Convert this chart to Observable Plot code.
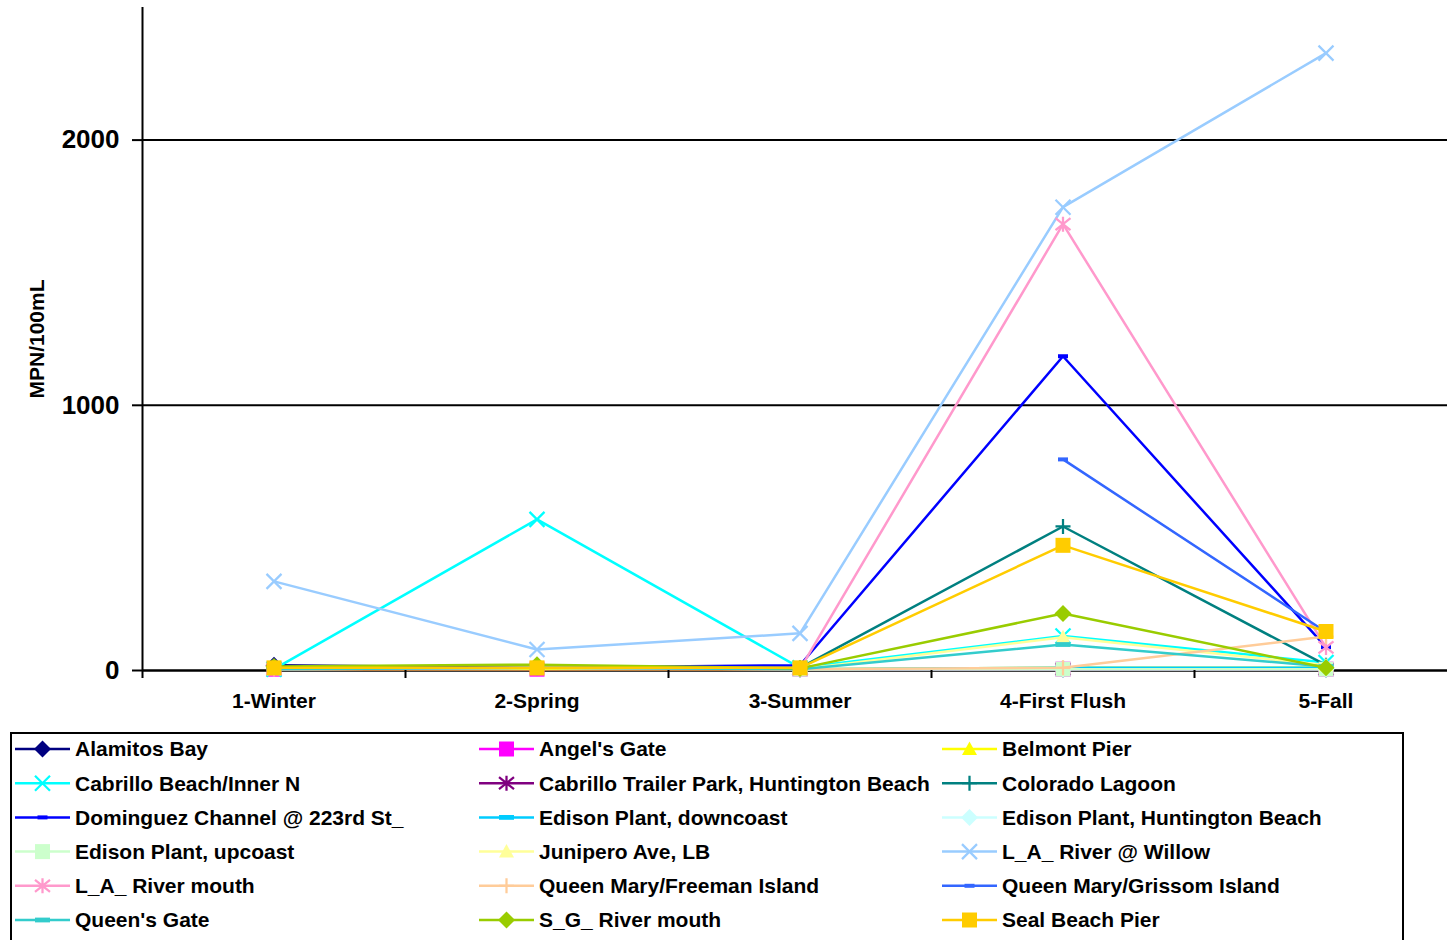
<!DOCTYPE html>
<html>
<head>
<meta charset="utf-8">
<script src="https://cdn.jsdelivr.net/npm/d3@7"></script>
<script src="https://cdn.jsdelivr.net/npm/@observablehq/plot@0.6"></script>
<style>
  html, body { margin: 0; padding: 0; background: #fff; overflow: hidden; }
  body { width: 1447px; height: 940px; position: relative; font-family: "Liberation Sans", Arial, sans-serif; }
  #chart { position: absolute; left: 0; top: 0; }
  #legend { position: absolute; left: 10px; top: 732px; }
</style>
</head>
<body>
<div id="chart"></div>
<div id="legend"></div>
<script>
// Sampling seasons (x axis categories)
const seasons = ["1-Winter", "2-Spring", "3-Summer", "4-First Flush", "5-Fall"];

// Y axis ticks (MPN/100mL)
const yTicks = [0, 1000, 2000];

// Sites, in legend / drawing order
const sites = [
  "Alamitos Bay", "Angel's Gate", "Belmont Pier",
  "Cabrillo Beach/Inner N", "Cabrillo Trailer Park, Huntington Beach", "Colorado Lagoon",
  "Dominguez Channel @ 223rd St_", "Edison Plant, downcoast", "Edison Plant, Huntington Beach",
  "Edison Plant, upcoast", "Junipero Ave, LB", "L_A_ River @ Willow",
  "L_A_ River mouth", "Queen Mary/Freeman Island", "Queen Mary/Grissom Island",
  "Queen's Gate", "S_G_ River mouth", "Seal Beach Pier"
];

// Seasonal values per site (null = not sampled)
const alamitosBay       = [20, 10, 5, 5, 5];
const angelsGate        = [5, 5, 5, 5, 5];
const belmontPier       = [5, 5, 5, 10, 10];
const cabrilloBeach     = [5, 570, 10, 130, 30];
const cabrilloTrailer   = [null, null, 5, 5, 5];
const coloradoLagoon    = [10, 10, 10, 543, 20];
const dominguezChannel  = [10, 10, 20, 1185, 88];
const edisonDowncoast   = [null, null, 5, 10, 10];
const edisonHuntington  = [null, null, 5, 5, 5];
const edisonUpcoast     = [null, null, 5, 5, 5];
const juniperoAve       = [5, 10, 5, 125, 20];
const laRiverWillow     = [336, 79, 140, 1747, 2328];
const laRiverMouth      = [5, 10, 5, 1683, 87];
const freemanIsland     = [null, null, 5, 10, 128];
const grissomIsland     = [null, null, null, 796, 145];
const queensGate        = [5, 10, 5, 98, 15];
const sgRiverMouth      = [15, 22, 8, 215, 10];
const sealBeachPier     = [10, 10, 10, 472, 147];

const siteValues = [
  alamitosBay, angelsGate, belmontPier, cabrilloBeach, cabrilloTrailer, coloradoLagoon,
  dominguezChannel, edisonDowncoast, edisonHuntington, edisonUpcoast, juniperoAve, laRiverWillow,
  laRiverMouth, freemanIsland, grissomIsland, queensGate, sgRiverMouth, sealBeachPier
];

const siteColors = [
  "#000080", "#FF00FF", "#FFFF00", "#00FFFF", "#800080", "#008080",
  "#0000FF", "#00CCFF", "#CCFFFF", "#CCFFCC", "#FFFF99", "#99CCFF",
  "#FF99CC", "#FFCC99", "#3366FF", "#33CCCC", "#99CC00", "#FFCC00"
];

const siteMarkers = [
  "diamond", "square", "triangle", "x", "asterisk", "plus",
  "dash", "longdash", "diamond", "square", "triangle", "x",
  "asterisk", "plus", "dash", "longdash", "diamond", "square"
];

// Marker glyphs; size is the squared nominal width
const glyphs = {
  diamond: { draw(c, size) { const h = Math.sqrt(size) / 2; c.moveTo(0, -h); c.lineTo(h, 0); c.lineTo(0, h); c.lineTo(-h, 0); c.closePath(); } },
  square: { draw(c, size) { const h = Math.sqrt(size) / 2; c.rect(-h, -h, 2 * h, 2 * h); } },
  triangle: { draw(c, size) { const h = Math.sqrt(size) / 2; c.moveTo(0, -h); c.lineTo(h, h * 0.8); c.lineTo(-h, h * 0.8); c.closePath(); } },
  x: { draw(c, size) { const h = Math.sqrt(size) / 2; c.moveTo(-h, -h); c.lineTo(h, h); c.moveTo(h, -h); c.lineTo(-h, h); } },
  asterisk: { draw(c, size) { const h = Math.sqrt(size) / 2; c.moveTo(-h, -h * 0.8); c.lineTo(h, h * 0.8); c.moveTo(h, -h * 0.8); c.lineTo(-h, h * 0.8); c.moveTo(0, -h); c.lineTo(0, h); } },
  plus: { draw(c, size) { const h = Math.sqrt(size) / 2; c.moveTo(-h, 0); c.lineTo(h, 0); c.moveTo(0, -h); c.lineTo(0, h); } },
  dash: { draw(c, size) { const w = Math.sqrt(size); c.rect(-w / 2, -w * 0.2, w, w * 0.4); } },
  longdash: { draw(c, size) { const w = Math.sqrt(size); c.rect(-w / 2, -w * 0.16, w, w * 0.32); } }
};
const glyphWidth = { diamond: 17, square: 15, triangle: 15, x: 15, asterisk: 15, plus: 15, dash: 10, longdash: 15 };
const glyphStroked = { x: true, asterisk: true, plus: true };

const tickBounds = d3.range(seasons.length + 1).map(i => i - 0.5);

const seriesMarks = sites.flatMap((name, k) => {
  const rows = siteValues[k]
    .map((v, i) => ({ i, v }))
    .filter(d => d.v != null);
  const m = siteMarkers[k];
  const color = siteColors[k];
  const stroked = glyphStroked[m];
  return [
    Plot.line(rows, { x: "i", y: "v", stroke: color, strokeWidth: 2.5 }),
    Plot.dot(rows, {
      x: "i", y: "v",
      symbol: glyphs[m],
      r: glyphWidth[m] / Math.sqrt(Math.PI),
      fill: stroked ? "none" : color,
      stroke: stroked ? color : "none",
      strokeWidth: stroked ? 2.25 : 0
    })
  ];
});

const chart = Plot.plot({
  width: 1447,
  height: 730,
  marginLeft: 142,
  marginRight: 0,
  marginTop: 7,
  marginBottom: 60,
  style: { fontFamily: "'Liberation Sans', Arial, sans-serif", background: "white", color: "black" },
  x: { type: "linear", domain: [-0.5, seasons.length - 0.5], range: [142, 1457] },
  y: { domain: [0, 2500], range: [670, 7] },
  marks: [
    Plot.ruleY(yTicks.filter(d => d > 0), { stroke: "black", strokeWidth: 2 }),
    Plot.ruleY([0], { stroke: "black", strokeWidth: 2.5 }),
    Plot.ruleX([-0.5], { stroke: "black", strokeWidth: 2 }),
    ...seriesMarks,
    Plot.axisY(yTicks, { tickSize: 10, tickPadding: 13, strokeWidth: 2, fontSize: 26, fontWeight: "bold", tickFormat: d => String(d), label: null }),
    Plot.axisX(tickBounds, { tickSize: 8, strokeWidth: 2, tickFormat: () => "", label: null }),
    Plot.axisX(d3.range(seasons.length), { tickSize: 0, tickPadding: 23, fontSize: 21, fontWeight: "bold", tickFormat: i => seasons[i], label: null }),
    Plot.text(["MPN/100mL"], { frameAnchor: "left", textAnchor: "middle", dx: -105, rotate: -90, fontSize: 21, fontWeight: "bold" })
  ]
});
document.getElementById("chart").append(chart);

// Legend: three columns, row-major
const legend = d3.select("#legend").append("svg")
  .attr("width", 1396).attr("height", 210)
  .style("display", "block")
  .style("font-family", "'Liberation Sans', Arial, sans-serif");
legend.append("rect")
  .attr("x", 1).attr("y", 1).attr("width", 1392).attr("height", 260)
  .attr("fill", "white").attr("stroke", "black").attr("stroke-width", 2);

const colX = [5, 469, 932];
sites.forEach((name, k) => {
  const cx = colX[k % 3];
  const cy = 17 + Math.floor(k / 3) * 34.2;
  const color = siteColors[k];
  const m = siteMarkers[k];
  const stroked = glyphStroked[m];
  const g = legend.append("g").attr("transform", `translate(${cx},${cy})`);
  g.append("line").attr("x1", 0).attr("x2", 55).attr("y1", 0).attr("y2", 0)
    .attr("stroke", color).attr("stroke-width", 2.5);
  g.append("path")
    .attr("transform", "translate(27.5,0)")
    .attr("d", d3.symbol(glyphs[m], glyphWidth[m] * glyphWidth[m])())
    .attr("fill", stroked ? "none" : color)
    .attr("stroke", stroked ? color : "none")
    .attr("stroke-width", stroked ? 2.25 : 0);
  g.append("text").attr("x", 60).attr("y", 0).attr("dy", "0.35em")
    .attr("font-size", 21).attr("font-weight", "bold").attr("fill", "black")
    .text(name);
});
</script>
</body>
</html>
